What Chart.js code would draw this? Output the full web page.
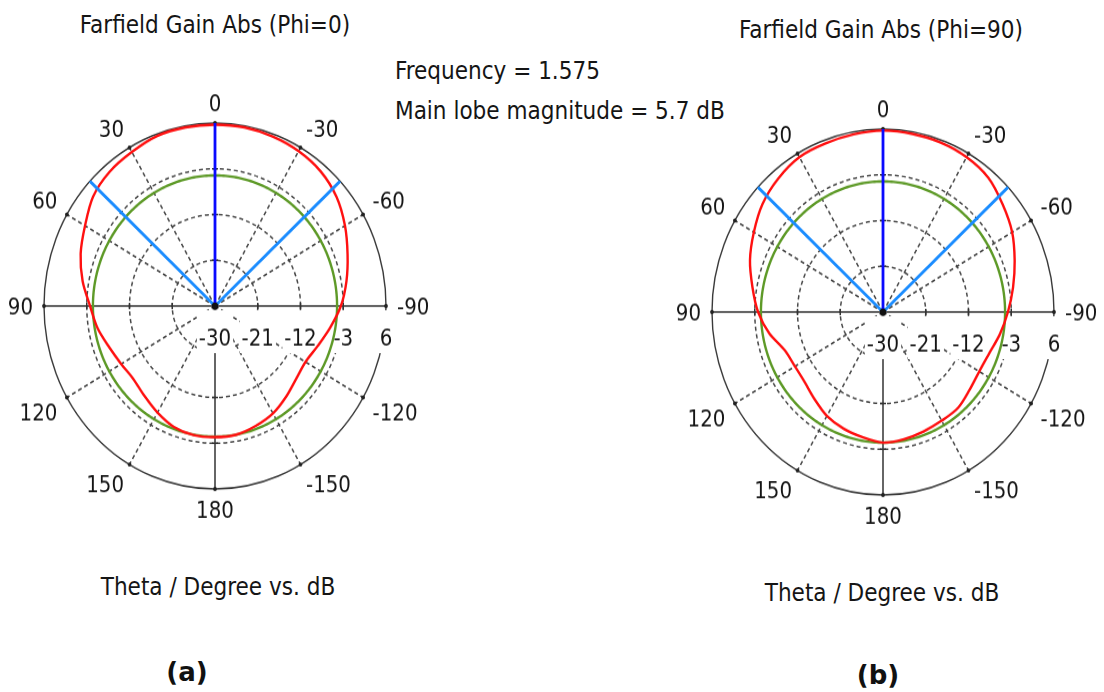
<!DOCTYPE html>
<html>
<head>
<meta charset="utf-8">
<title>Farfield Gain Abs</title>
<script src="https://cdn.jsdelivr.net/npm/chart.js@4.4.1/dist/chart.umd.min.js"></script>
<style>
  body {
    margin: 0;
    width: 1104px;
    height: 692px;
    position: relative;
    overflow: hidden;
    background: #fff;
    color: #151515;
    font-family: "DejaVu Sans Condensed", "DejaVu Sans", sans-serif;
  }
  .txt {
    position: absolute;
    white-space: nowrap;
    line-height: 1;
    font-size: 24px;
  }
  .mid { transform: translateX(-50%); }
  .tag {
    font-family: "DejaVu Sans", sans-serif;
    font-weight: bold;
    font-size: 26px;
    color: #111;
  }
  .plot {
    position: absolute;
    width: 442px;
    height: 442px;
    transform: scaleY(1.07);
    transform-origin: 50% 50%;
  }
</style>
</head>
<body>

<div class="txt mid" style="left:215px; top:13px;">Farfield Gain Abs (Phi=0)</div>
<div class="txt mid" style="left:881px; top:18px;">Farfield Gain Abs (Phi=90)</div>
<div class="txt" style="left:395px; top:59px;">Frequency = 1.575</div>
<div class="txt" style="left:395px; top:99px;">Main lobe magnitude = 5.7 dB</div>
<div class="txt mid" style="left:218px; top:575px;">Theta / Degree vs. dB</div>
<div class="txt mid" style="left:882px; top:581px;">Theta / Degree vs. dB</div>
<div class="txt mid tag" style="left:187px; top:659px;">(a)</div>
<div class="txt mid tag" style="left:878px; top:662px;">(b)</div>

<div class="plot" style="left:-6px; top:85px;"><canvas id="chartPhi0" width="442" height="442"></canvas></div>
<div class="plot" style="left:662px; top:91px;"><canvas id="chartPhi90" width="442" height="442"></canvas></div>

<script>
const thetaSteps = [0, -10, -20, -30, -40, -50, -60, -70, -80, -90, -100, -110, -120, -130, -140, -150, -160, -170,
  180, 170, 160, 150, 140, 130, 120, 110, 100, 90, 80, 70, 60, 50, 40, 30, 20, 10];

const gainPhi0 = [5.7, 5.7, 5.5, 5.2, 4.6, 3.4, 1.6, -0.3, -1.9, -3.5, -5.4, -7.0, -8.0, -7.7, -6.7, -5.6, -4.9, -4.3,
  -4.2, -4.2, -4.7, -5.8, -6.9, -7.6, -7.2, -6.3, -4.9, -3.7, -1.7, 0.1, 1.6, 3.5, 4.5, 5.0, 5.6, 5.7];

const gainPhi90 = [5.7, 5.6, 5.5, 5.2, 4.5, 2.9, 1.4, -0.5, -2.2, -3.7, -5.0, -6.2, -6.6, -6.2, -5.4, -5.3, -5.0, -4.6,
  -4.3, -5.0, -5.6, -6.4, -7.6, -8.5, -8.6, -8.0, -5.7, -3.7, -2.1, -0.2, 1.4, 3.1, 4.3, 5.2, 5.3, 5.5];

const levelPhi0 = -4.3;
const levelPhi90 = -4.3;

const mainLobeDir = [0];
const beamEdgeDirs = [47, -47];

const dbTicks = [-30, -21, -12, -3, 6];
const angleTicks = [0, -30, -60, -90, -120, -150, 180, 150, 120, 90, 60, 30];

const dbMin = -30;
const dbMax = 6;

const labelFont = '22px "DejaVu Sans Condensed", "DejaVu Sans", sans-serif';
const textColor = "#151515";
const gridColor = "#484848";

function indexOfTheta(theta) {
  return ((-theta % 360) + 360) % 360;
}

const thetaLabels = [];
for (let i = 0; i < 360; i++) {
  const t = i <= 180 ? -i : 360 - i;
  thetaLabels.push(String(i === 180 ? 180 : t === 0 ? 0 : t));
}

function buildSeries(thetas, values) {
  const data = new Array(360).fill(null);
  thetas.forEach((t, k) => {
    data[indexOfTheta(t)] = values[k];
  });
  return data;
}

function buildRays(dirs) {
  const data = new Array(360).fill(null);
  dirs.forEach(t => {
    const i = indexOfTheta(t);
    data[i] = dbMax;
    data[(i + 1) % 360] = dbMin;
  });
  return data;
}

const polarDecor = {
  id: "polarDecor",
  beforeDatasetsDraw(chart) {
    const r = chart.scales.r;
    const ctx = chart.ctx;
    ctx.save();

    ctx.fillStyle = "#222";
    angleTicks.forEach(t => {
      const p = r.getPointPositionForValue(indexOfTheta(t), dbMax);
      ctx.beginPath();
      ctx.arc(p.x, p.y, 1.9, 0, Math.PI * 2);
      ctx.fill();
    });

    // small ticks where the rings cross the main axes
    ctx.strokeStyle = "#333";
    ctx.lineWidth = 1.5;
    [0, 90, 180, 270].forEach(i => {
      const horizontal = i === 90 || i === 270;
      dbTicks.slice(1, -1).forEach(v => {
        const p = r.getPointPositionForValue(i, v);
        ctx.beginPath();
        if (horizontal) {
          ctx.moveTo(p.x, p.y - 3);
          ctx.lineTo(p.x, p.y + 3);
        } else {
          ctx.moveTo(p.x - 3, p.y);
          ctx.lineTo(p.x + 3, p.y);
        }
        ctx.stroke();
      });
    });

    ctx.font = labelFont;
    ctx.textAlign = "center";
    ctx.textBaseline = "alphabetic";
    dbTicks.forEach(v => {
      const p = r.getPointPositionForValue(90, v);
      const text = String(v);
      const w = ctx.measureText(text).width;
      ctx.fillStyle = "#fff";
      ctx.fillRect(p.x - w / 2 - 2, r.yCenter + 4, w + 4, 40);
      ctx.fillStyle = textColor;
      ctx.fillText(text, p.x, r.yCenter + 37);
    });

    const cap = 16;
    angleTicks.forEach(t => {
      const i = indexOfTheta(t);
      const p = r.getPointPosition(i, r.drawingArea + 11);
      const a = i * Math.PI / 180;
      const s = Math.sin(a);
      const c = Math.cos(a);
      ctx.textAlign = Math.abs(s) < 0.01 ? "center" : s > 0 ? "left" : "right";
      let y = p.y;
      if (Math.abs(c) < 0.01) y = p.y + cap / 2;
      else if (c < 0) y = p.y + cap;
      ctx.fillText(String(t), p.x, y);
    });

    ctx.restore();
  },
  afterDatasetsDraw(chart) {
    const r = chart.scales.r;
    const ctx = chart.ctx;
    ctx.save();
    ctx.fillStyle = "#111";
    ctx.beginPath();
    ctx.arc(r.xCenter, r.yCenter, 3.2, 0, Math.PI * 2);
    ctx.fill();
    ctx.restore();
  }
};

function renderPolar(canvasId, gain, level) {
  return new Chart(document.getElementById(canvasId), {
    type: "radar",
    data: {
      labels: thetaLabels,
      datasets: [
        {
          data: buildRays(mainLobeDir),
          borderColor: "#0a0aff",
          borderWidth: 2.8,
          spanGaps: false
        },
        {
          data: buildRays(beamEdgeDirs),
          borderColor: "#1a8cff",
          borderWidth: 2.8,
          spanGaps: false
        },
        {
          data: buildSeries(thetaSteps, gain),
          borderColor: "#ff1010",
          borderWidth: 2.4,
          tension: 0.3,
          spanGaps: true
        },
        {
          data: thetaLabels.map(() => level),
          borderColor: "#5e9a28",
          borderWidth: 2.4,
          spanGaps: true
        }
      ]
    },
    options: {
      responsive: false,
      animation: false,
      layout: { padding: 50 },
      elements: {
        point: { radius: 0, hitRadius: 0, hoverRadius: 0 },
        line: { fill: false, backgroundColor: "transparent" }
      },
      plugins: {
        legend: { display: false },
        tooltip: { enabled: false }
      },
      scales: {
        r: {
          min: dbMin,
          max: dbMax,
          startAngle: 0,
          ticks: { display: false, stepSize: 9 },
          pointLabels: { display: false },
          grid: {
            circular: true,
            color: ctx => (ctx.tick && ctx.tick.value === dbMax ? "#3a3a3a" : gridColor),
            lineWidth: ctx => (ctx.tick && ctx.tick.value === dbMax ? 1.4 : 1.5)
          },
          border: {
            dash: ctx => (ctx.tick && ctx.tick.value === dbMax ? [] : [4, 3])
          },
          angleLines: {
            color: ctx => (ctx.index % 90 === 0 ? "#333" : gridColor),
            lineWidth: ctx => (ctx.index % 30 === 0 ? 1.5 : 0),
            borderDash: ctx => (ctx.index % 90 === 0 ? [] : [4, 3])
          }
        }
      }
    },
    plugins: [polarDecor]
  });
}

renderPolar("chartPhi0", gainPhi0, levelPhi0);
renderPolar("chartPhi90", gainPhi90, levelPhi90);
</script>
</body>
</html>
